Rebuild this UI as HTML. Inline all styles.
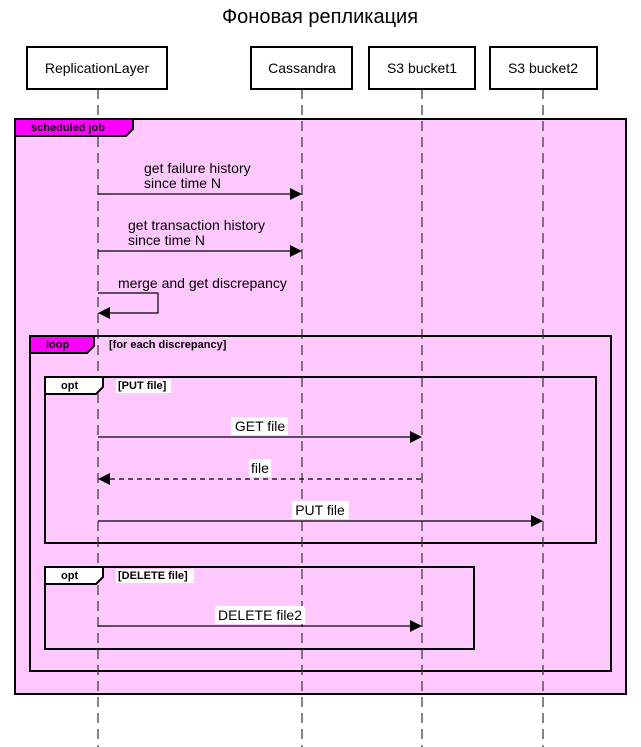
<!DOCTYPE html>
<html><head><meta charset="utf-8"><style>
html,body{margin:0;padding:0;background:#fff;width:641px;height:747px;overflow:hidden}
svg{display:block;font-family:"Liberation Sans",sans-serif}
</style></head><body>
<svg width="641" height="747" viewBox="0 0 641 747" xmlns="http://www.w3.org/2000/svg">
<text x="320" y="23" font-size="20" text-anchor="middle" fill="#000">Фоновая репликация</text>
<rect x="15" y="119" width="611" height="575" fill="#ffc8ff" stroke="#000" stroke-width="2"/>
<rect x="30" y="336" width="581" height="335" fill="#ffc8ff" stroke="#000" stroke-width="2"/>
<rect x="45" y="377" width="551" height="166" fill="#ffc8ff" stroke="#000" stroke-width="2"/>
<rect x="45" y="567" width="429" height="82" fill="#ffc8ff" stroke="#000" stroke-width="2"/>
<g stroke="#333" stroke-width="1.2" stroke-dasharray="10,6">
<line x1="98" y1="89" x2="98" y2="747"/>
<line x1="302" y1="89" x2="302" y2="747"/>
<line x1="422" y1="89" x2="422" y2="747"/>
<line x1="543" y1="89" x2="543" y2="747"/>
</g>
<g fill="#fff" stroke="#000" stroke-width="2">
<rect x="27" y="47" width="140" height="42"/>
<rect x="251" y="47" width="101" height="42"/>
<rect x="369" y="47" width="106" height="42"/>
<rect x="490" y="47" width="107" height="42"/>
</g>
<g font-size="14" text-anchor="middle">
<text x="97" y="73">ReplicationLayer</text>
<text x="302" y="73">Cassandra</text>
<text x="422" y="73">S3 bucket1</text>
<text x="543" y="73">S3 bucket2</text>
</g>
<path d="M15 119 H133 V129 L126 136 H15 Z" fill="#ff00ff" stroke="#000" stroke-width="2"/>
<text x="31" y="131" font-size="11" font-weight="bold">scheduled job</text>
<path d="M30 336 H94 V346 L87 353 H30 Z" fill="#ff00ff" stroke="#000" stroke-width="2"/>
<text x="46" y="348" font-size="11" font-weight="bold">loop</text>
<text x="109" y="348" font-size="11" font-weight="bold">[for each discrepancy]</text>
<path d="M45 377 H103 V387 L96 394 H45 Z" fill="#fff" stroke="#000" stroke-width="2"/>
<text x="61" y="389" font-size="11" font-weight="bold">opt</text>
<rect x="116" y="379" width="55" height="14" fill="#fff"/>
<text x="118" y="389" font-size="11" font-weight="bold">[PUT file]</text>
<path d="M45 567 H103 V577 L96 584 H45 Z" fill="#fff" stroke="#000" stroke-width="2"/>
<text x="61" y="579" font-size="11" font-weight="bold">opt</text>
<rect x="116" y="569" width="78" height="14" fill="#fff"/>
<text x="118" y="579" font-size="11" font-weight="bold">[DELETE file]</text>
<g stroke="#000" stroke-width="1.2" fill="none">
<line x1="98" y1="194" x2="292" y2="194"/>
<line x1="98" y1="251" x2="292" y2="251"/>
<polyline points="98,293 158,293 158,313 110,313"/>
<line x1="98" y1="437" x2="412" y2="437"/>
<line x1="110" y1="479" x2="422" y2="479" stroke-dasharray="5,4"/>
<line x1="98" y1="521" x2="533" y2="521"/>
<line x1="98" y1="626" x2="412" y2="626"/>
</g>
<g fill="#000">
<polygon points="290,188 302,194 290,200"/>
<polygon points="290,245 302,251 290,257"/>
<polygon points="98,313 110,307 110,319"/>
<polygon points="410,431 422,437 410,443"/>
<polygon points="98,479 110,473 110,485"/>
<polygon points="531,515 543,521 531,527"/>
<polygon points="410,620 422,626 410,632"/>
</g>
<g font-size="14">
<text x="144" y="173">get failure history</text>
<text x="144" y="188">since time N</text>
<text x="128" y="230">get transaction history</text>
<text x="128" y="245">since time N</text>
<text x="118" y="288">merge and get discrepancy</text>
</g>
<g fill="#fff">
<rect x="231" y="417" width="57" height="18"/>
<rect x="249" y="459" width="22" height="18"/>
<rect x="292" y="501" width="57" height="18"/>
<rect x="215" y="606" width="90" height="18"/>
</g>
<g font-size="14" text-anchor="middle">
<text x="260" y="431">GET file</text>
<text x="260" y="473">file</text>
<text x="320" y="515">PUT file</text>
<text x="260" y="620">DELETE file2</text>
</g>
</svg>
</body></html>
